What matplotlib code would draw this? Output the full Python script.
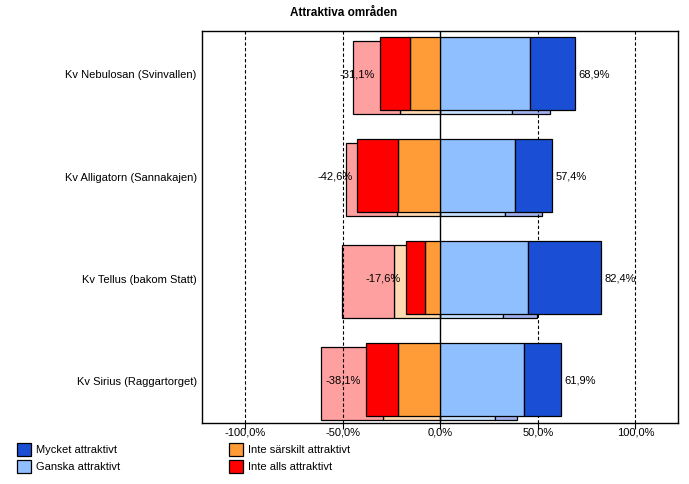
import matplotlib
matplotlib.use("Agg")
import matplotlib.pyplot as plt
from matplotlib.patches import Rectangle

plt.rcParams['font.family'] = ['Liberation Sans', 'DejaVu Sans']

categories = ["Kv Nebulosan (Svinvallen)", "Kv Alligatorn (Sannakajen)",
              "Kv Tellus (bakom Statt)", "Kv Sirius (Raggartorget)"]

# Main series (percent)
mycket = [22.8, 19.0, 37.4, 19.0]
ganska = [46.1, 38.4, 45.0, 42.9]
inte_sarskilt = [15.4, 21.5, 7.7, 21.5]
inte_alls = [15.7, 21.1, 9.9, 16.6]

# Comparison series (drawn behind, lighter)
jmf_mycket = [19.5, 19.0, 17.4, 11.3]
jmf_ganska = [36.6, 33.3, 32.3, 27.9]
jmf_inte_sarskilt = [20.9, 22.1, 23.6, 29.2]
jmf_inte_alls = [23.6, 26.3, 26.7, 31.8]

xticks = [-100, -50, 0, 50, 100]

legend_labels = ["Mycket attraktivt", "Ganska attraktivt",
                 "Inte särskilt attraktivt", "Inte alls attraktivt"]

c_mycket = "#1A4ED4"
c_ganska = "#8FBFFF"
c_sarsk = "#FF9C38"
c_alls = "#FF0000"
cj_mycket = "#A3B3F0"
cj_ganska = "#C9E1FF"
cj_sarsk = "#FFDAB2"
cj_alls = "#FFA0A0"

fig = plt.figure(figsize=(6.89, 4.85), dpi=100)
ax = fig.add_axes([202.3/689, 1-424/485, (678.3-202.3)/689, (424-32.3)/485])

ypos = list(range(len(categories)))
h = 0.716
off = 0.04
lw = 0.9

# comparison bars
ys = [y + off for y in ypos]
ax.barh(ys, jmf_ganska, height=h, left=0, color=cj_ganska, edgecolor='black', lw=lw, zorder=1)
ax.barh(ys, jmf_mycket, height=h, left=jmf_ganska, color=cj_mycket, edgecolor='black', lw=lw, zorder=1)
ax.barh(ys, [-v for v in jmf_inte_sarskilt], height=h, left=0, color=cj_sarsk, edgecolor='black', lw=lw, zorder=1)
ax.barh(ys, [-v for v in jmf_inte_alls], height=h,
        left=[-v for v in jmf_inte_sarskilt], color=cj_alls, edgecolor='black', lw=lw, zorder=1)

# grid lines
for t in xticks:
    if t == 0:
        ax.axvline(0, color='black', lw=1.0, zorder=2)
    else:
        ax.axvline(t, color='black', lw=0.8, ls=(0, (3, 2)), zorder=2)

# main bars
ys = ypos
ax.barh(ys, ganska, height=h, left=0, color=c_ganska, edgecolor='black', lw=lw, zorder=3)
ax.barh(ys, mycket, height=h, left=ganska, color=c_mycket, edgecolor='black', lw=lw, zorder=3)
ax.barh(ys, [-v for v in inte_sarskilt], height=h, left=0, color=c_sarsk, edgecolor='black', lw=lw, zorder=3)
ax.barh(ys, [-v for v in inte_alls], height=h,
        left=[-v for v in inte_sarskilt], color=c_alls, edgecolor='black', lw=lw, zorder=3)

def fmt(v):
    return ("%.1f%%" % v).replace(".", ",")

for i, y in enumerate(ys):
    pos = ganska[i] + mycket[i]
    neg = inte_sarskilt[i] + inte_alls[i]
    ax.annotate(fmt(pos), (pos, y), xytext=(2.5, 0), textcoords='offset points',
                ha='left', va='center', fontsize=8, zorder=5)
    ax.annotate(fmt(-neg), (-neg, y), xytext=(-3.5, 0), textcoords='offset points',
                ha='right', va='center', fontsize=8, zorder=5)

ax.set_xlim(-122, 122)
ax.set_ylim(3.423, -0.413)
ax.set_xticks(xticks)
ax.set_xticklabels([fmt(t) for t in xticks], fontsize=8)
ax.set_yticks(ypos)
ax.set_yticklabels(categories, fontsize=8)
ax.tick_params(axis='x', length=4, width=0.8, pad=-1.5, direction='out')
ax.tick_params(axis='y', length=0, pad=4)
for s in ax.spines.values():
    s.set_linewidth(1.0)

fig.text(344/689, 1-13.3/485, "Attraktiva områden", ha='center', va='center',
         fontsize=8.5, fontweight='bold')

# legend
leg_cols = [c_mycket, c_ganska, c_sarsk, c_alls]
leg_x = [17.3, 17.3, 229.3, 229.3]
leg_y = [444.3, 460.7, 444.3, 460.7]
for lab, col, lx, ly in zip(legend_labels, leg_cols, leg_x, leg_y):
    fig.patches.append(Rectangle((lx/689, 1-(ly+13)/485), 13.4/689, 13/485,
                                 transform=fig.transFigure, facecolor=col,
                                 edgecolor='black', lw=0.9))
    fig.text((lx+18.5)/689, 1-(ly+6)/485, lab, ha='left', va='center', fontsize=8)

fig.savefig("out.png", dpi=100)
